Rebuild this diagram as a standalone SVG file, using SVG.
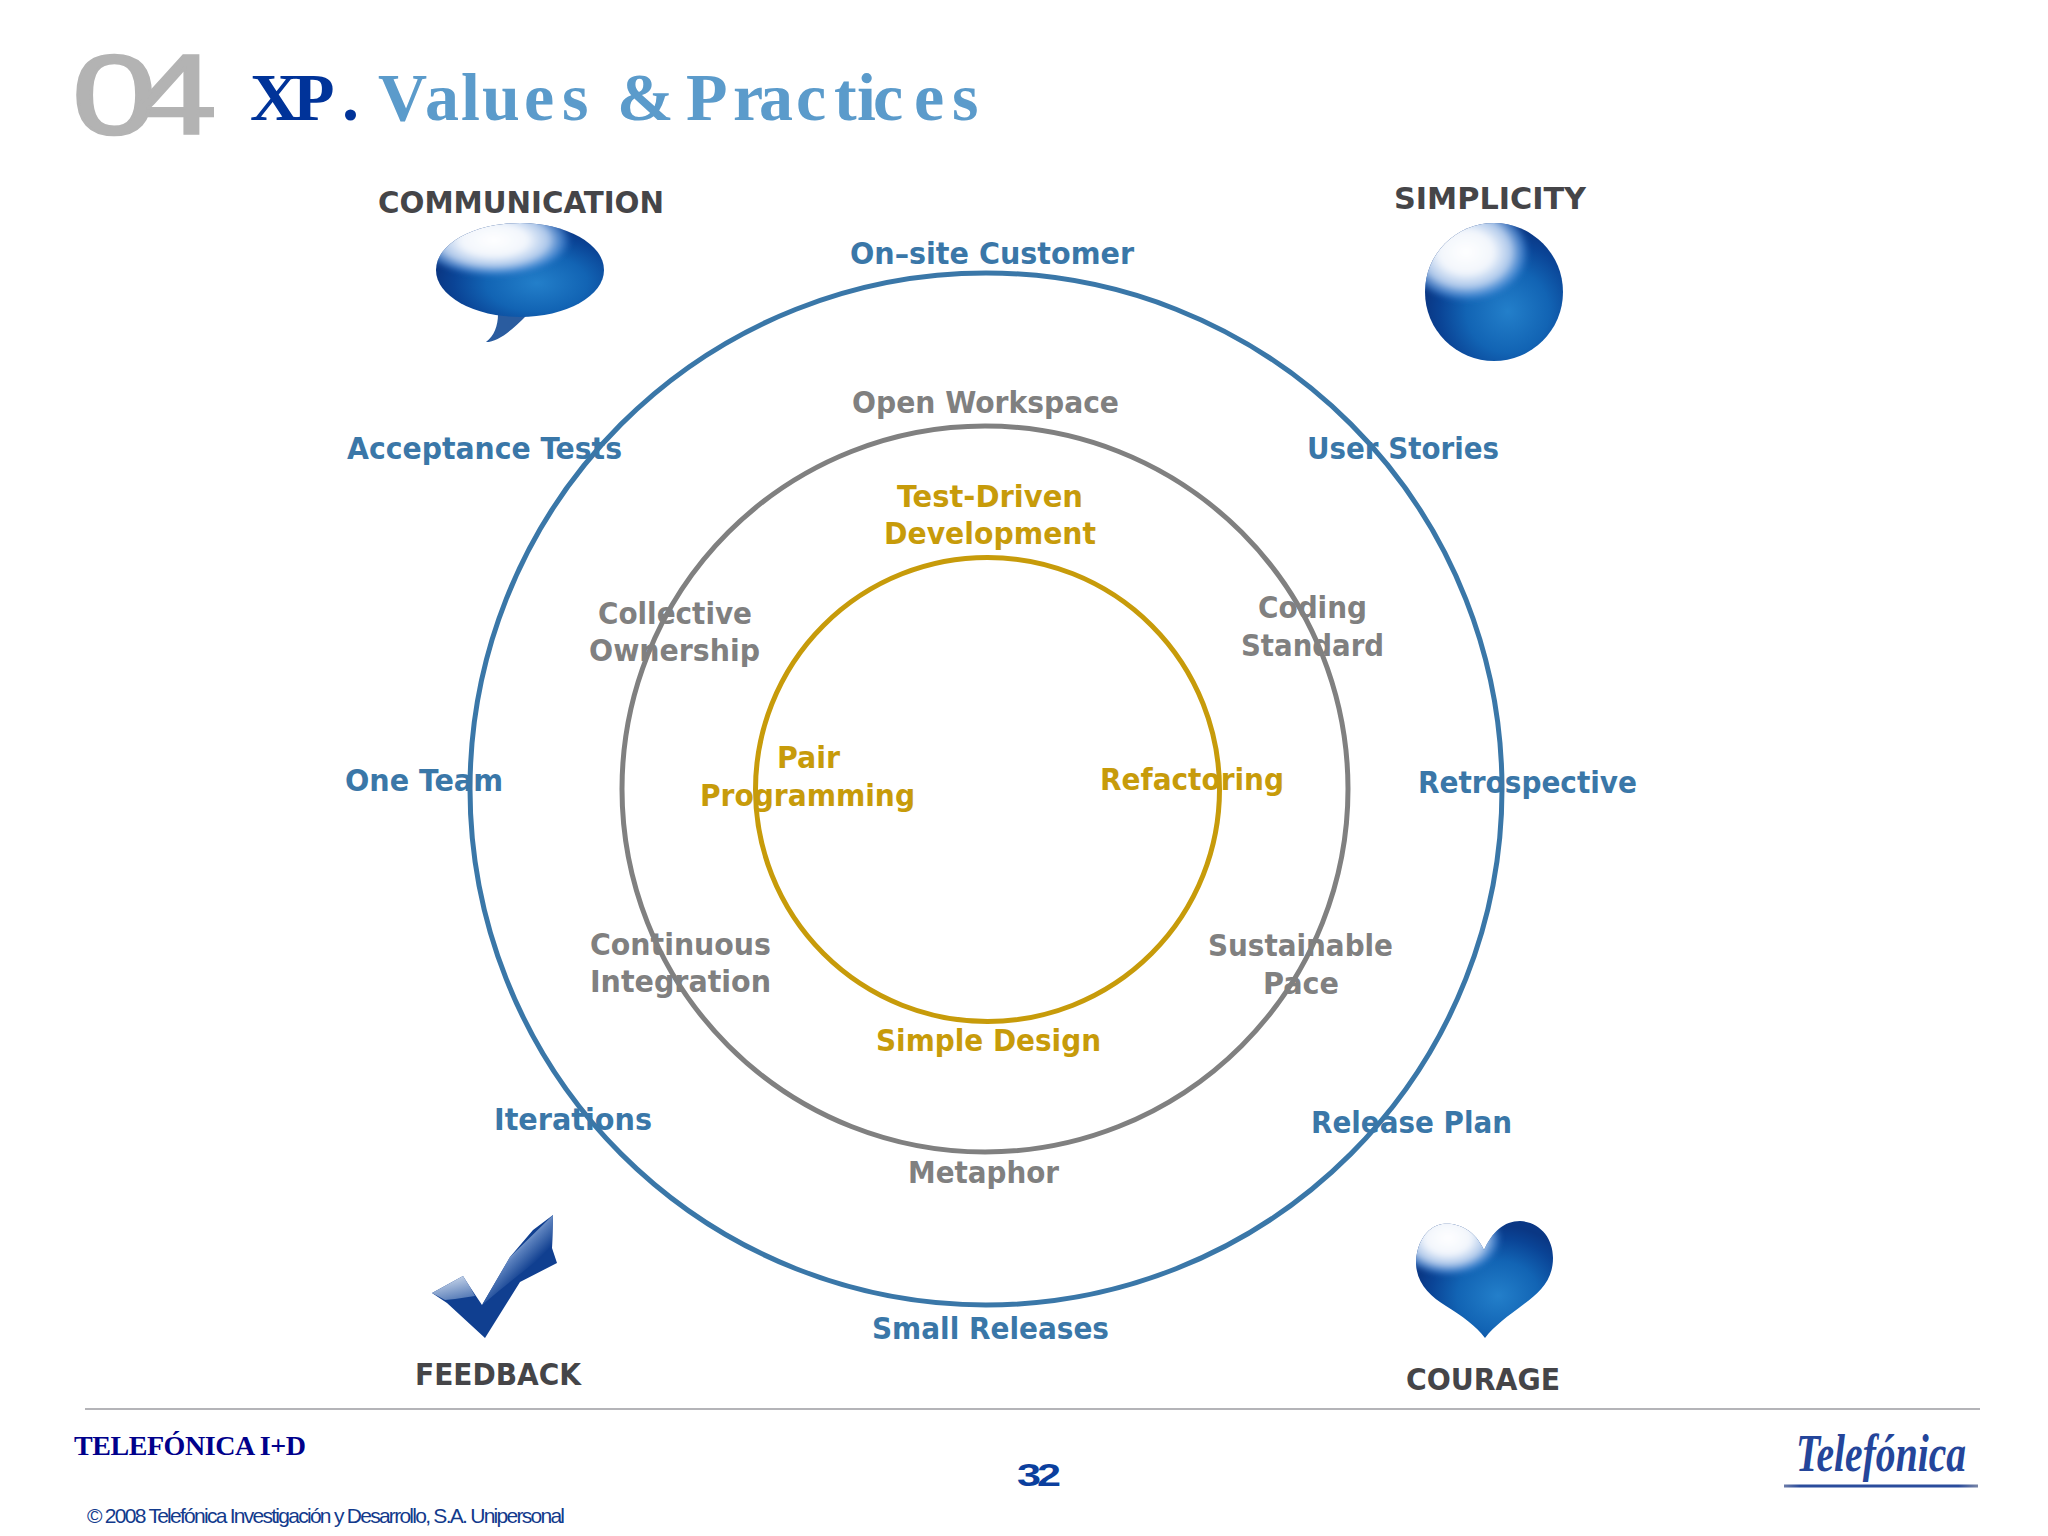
<svg xmlns="http://www.w3.org/2000/svg" width="2048" height="1536" viewBox="0 0 2048 1536">
<style>
text{font-family:"DejaVu Sans","Liberation Sans",sans-serif;font-weight:700;font-size:31px;font-stretch:condensed}
.b{fill:#3a77a8}.g{fill:#808080}.y{fill:#c79b0a}.d{fill:#454548}
.ring{fill:none;stroke-width:5}
.serif{font-family:"Liberation Serif",serif}
.sans{font-family:"Liberation Sans",sans-serif}
</style>
<defs>
<radialGradient id="blue" cx="0.6" cy="0.64" r="0.6">
<stop offset="0" stop-color="#237fca"/><stop offset="0.5" stop-color="#1264b4"/><stop offset="0.82" stop-color="#0a4496"/><stop offset="1" stop-color="#0a3784"/>
</radialGradient>
<radialGradient id="hi">
<stop offset="0" stop-color="#ffffff"/><stop offset="0.42" stop-color="#f2f6fc"/><stop offset="0.7" stop-color="#b4cdee" stop-opacity="0.95"/><stop offset="0.88" stop-color="#5f9be0" stop-opacity="0.6"/><stop offset="1" stop-color="#3f88d8" stop-opacity="0"/>
</radialGradient>
<linearGradient id="armLong" gradientUnits="userSpaceOnUse" x1="512" y1="1238" x2="536" y2="1262">
<stop offset="0" stop-color="#c4d3ea"/><stop offset="0.45" stop-color="#5a80bd"/><stop offset="1" stop-color="#103f90"/>
</linearGradient>
<linearGradient id="armShort" gradientUnits="userSpaceOnUse" x1="450" y1="1276" x2="456" y2="1302">
<stop offset="0" stop-color="#ccd9ec"/><stop offset="1" stop-color="#4d74b3"/>
</linearGradient>
<linearGradient id="rule" x1="0" x2="1" y1="0" y2="0">
<stop offset="0" stop-color="#6c7ba8"/><stop offset="0.08" stop-color="#2a4c9c"/><stop offset="0.9" stop-color="#2a4c9c"/><stop offset="1" stop-color="#7a86a6"/>
</linearGradient>
<filter id="soft" x="-30%" y="-30%" width="160%" height="160%"><feGaussianBlur stdDeviation="2.5"/></filter>
<clipPath id="cBubble"><ellipse cx="520" cy="270" rx="84" ry="47"/></clipPath>
<clipPath id="cSphere"><circle cx="1494" cy="292" r="69"/></clipPath>
<clipPath id="cHeart"><path d="M1484 1250C1474 1228 1456 1222 1442 1224C1426 1227 1416 1244 1416 1264C1417 1284 1430 1296 1446 1306C1462 1316 1476 1326 1485 1338C1494 1326 1508 1316 1524 1304C1540 1292 1553 1280 1553 1258C1553 1238 1540 1222 1520 1221C1504 1221 1492 1232 1484 1250Z"/></clipPath>
</defs>

<rect width="2048" height="1536" fill="#ffffff"/>

<g id="title">
<text class="sans" transform="translate(72,134) scale(1.33,1)" letter-spacing="-18" style="font-size:114px;font-weight:400;fill:#b3b3b3;stroke:#b3b3b3;stroke-width:2.5">04</text>
<text class="serif" x="250 293 342" y="120" style="font-size:68px;fill:#003399">XP.</text>
<text class="serif" x="378 425 461 482 524 562 600 617 670 686 733 759 796 834 857 873 914 952" y="120" style="font-size:68px;fill:#5b9bcb">Values &amp; Practices</text>
</g>

<g id="connectors">
<circle class="ring" cx="986" cy="789" r="516" stroke="#3a77a8"/>
<circle class="ring" cx="985" cy="789" r="363" stroke="#808080"/>
<circle class="ring" cx="987.5" cy="789.5" r="232" stroke="#c79b0a"/>
</g>

<g id="value-communication">
<text class="d" x="378" y="213" textLength="286" lengthAdjust="spacingAndGlyphs">COMMUNICATION</text>
<path d="M498 314C498 326 494 336 486 342C498 342 512 330 526 316Z" fill="#2a5c9f"/>
<ellipse cx="520" cy="270" rx="84" ry="47" fill="url(#blue)"/>
<g clip-path="url(#cBubble)"><ellipse cx="494" cy="240" rx="78" ry="37" fill="url(#hi)" filter="url(#soft)"/></g>
</g>

<g id="value-simplicity">
<text class="d" x="1394" y="209" textLength="192" lengthAdjust="spacingAndGlyphs">SIMPLICITY</text>
<circle cx="1494" cy="292" r="69" fill="url(#blue)"/>
<g clip-path="url(#cSphere)"><ellipse cx="1466" cy="252" rx="64" ry="50" fill="url(#hi)" filter="url(#soft)"/></g>
</g>

<g id="value-feedback">
<path d="M553 1215L552 1248L557 1263L520 1282L485 1338L447 1303L432 1293L463 1276L470 1287L482 1305L510 1257L533 1230Z" fill="#103f90"/>
<path d="M553 1215L510 1257L482 1305L500 1290L535 1262L552 1248Z" fill="url(#armLong)"/>
<path d="M432 1293L463 1276L470 1287L475 1296L455 1299L445 1300Z" fill="url(#armShort)"/>
<text class="d" x="415" y="1385" textLength="166" lengthAdjust="spacingAndGlyphs">FEEDBACK</text>
</g>

<g id="value-courage">
<path d="M1484 1250C1474 1228 1456 1222 1442 1224C1426 1227 1416 1244 1416 1264C1417 1284 1430 1296 1446 1306C1462 1316 1476 1326 1485 1338C1494 1326 1508 1316 1524 1304C1540 1292 1553 1280 1553 1258C1553 1238 1540 1222 1520 1221C1504 1221 1492 1232 1484 1250Z" fill="url(#blue)"/>
<g clip-path="url(#cHeart)"><ellipse cx="1448" cy="1238" rx="54" ry="38" fill="url(#hi)" filter="url(#soft)"/></g>
<text class="d" x="1406" y="1390" textLength="154" lengthAdjust="spacingAndGlyphs">COURAGE</text>
</g>

<g id="outer-practices">
<text class="b" x="850" y="264" textLength="284" lengthAdjust="spacingAndGlyphs">On–site Customer</text>
<text class="b" x="347" y="459" textLength="275" lengthAdjust="spacingAndGlyphs">Acceptance Tests</text>
<text class="b" x="1307" y="459" textLength="192" lengthAdjust="spacingAndGlyphs">User Stories</text>
<text class="b" x="345" y="791" textLength="158" lengthAdjust="spacingAndGlyphs">One Team</text>
<text class="b" x="1418" y="793" textLength="219" lengthAdjust="spacingAndGlyphs">Retrospective</text>
<text class="b" x="494" y="1130" textLength="158" lengthAdjust="spacingAndGlyphs">Iterations</text>
<text class="b" x="1311" y="1133" textLength="201" lengthAdjust="spacingAndGlyphs">Release Plan</text>
<text class="b" x="872" y="1339" textLength="237" lengthAdjust="spacingAndGlyphs">Small Releases</text>
</g>

<g id="middle-practices">
<text class="g" x="852" y="413" textLength="267" lengthAdjust="spacingAndGlyphs">Open Workspace</text>
<text class="g" x="598" y="624" textLength="154" lengthAdjust="spacingAndGlyphs">Collective</text>
<text class="g" x="589" y="661" textLength="171" lengthAdjust="spacingAndGlyphs">Ownership</text>
<text class="g" x="1258" y="618" textLength="109" lengthAdjust="spacingAndGlyphs">Coding</text>
<text class="g" x="1241" y="656" textLength="143" lengthAdjust="spacingAndGlyphs">Standard</text>
<text class="g" x="590" y="955" textLength="181" lengthAdjust="spacingAndGlyphs">Continuous</text>
<text class="g" x="590" y="992" textLength="181" lengthAdjust="spacingAndGlyphs">Integration</text>
<text class="g" x="1208" y="956" textLength="185" lengthAdjust="spacingAndGlyphs">Sustainable</text>
<text class="g" x="1263" y="994" textLength="76" lengthAdjust="spacingAndGlyphs">Pace</text>
<text class="g" x="908" y="1183" textLength="151" lengthAdjust="spacingAndGlyphs">Metaphor</text>
</g>

<g id="inner-practices">
<text class="y" x="897" y="507" textLength="186" lengthAdjust="spacingAndGlyphs">Test-Driven</text>
<text class="y" x="884" y="544" textLength="212" lengthAdjust="spacingAndGlyphs">Development</text>
<text class="y" x="777" y="768" textLength="63" lengthAdjust="spacingAndGlyphs">Pair</text>
<text class="y" x="700" y="806" textLength="215" lengthAdjust="spacingAndGlyphs">Programming</text>
<text class="y" x="1100" y="790" textLength="184" lengthAdjust="spacingAndGlyphs">Refactoring</text>
<text class="y" x="876" y="1051" textLength="225" lengthAdjust="spacingAndGlyphs">Simple Design</text>
</g>

<g id="footer">
<line x1="85" y1="1409" x2="1980" y2="1409" stroke="#b4b4b8" stroke-width="2"/>
<text class="serif" x="74" y="1455" textLength="232" lengthAdjust="spacing" style="font-size:28px;fill:#00008b">TELEFÓNICA I+D</text>
<text class="sans" transform="translate(1017,1486) scale(1.35,1)" letter-spacing="-3" style="font-size:32px;font-weight:700;fill:#0b3f9e">32</text>
<text class="sans" x="87" y="1523" textLength="478" lengthAdjust="spacing" style="font-size:21px;font-weight:400;fill:#123a8c">© 2008 Telefónica Investigación y Desarrollo, S.A. Unipersonal</text>
<text class="serif" x="1796" y="1471" textLength="170" lengthAdjust="spacingAndGlyphs" style="font-size:52px;font-style:italic;font-weight:700;fill:#24459a">Telefónica</text>
<rect x="1784" y="1484.5" width="194" height="3" fill="url(#rule)"/>
</g>
</svg>
